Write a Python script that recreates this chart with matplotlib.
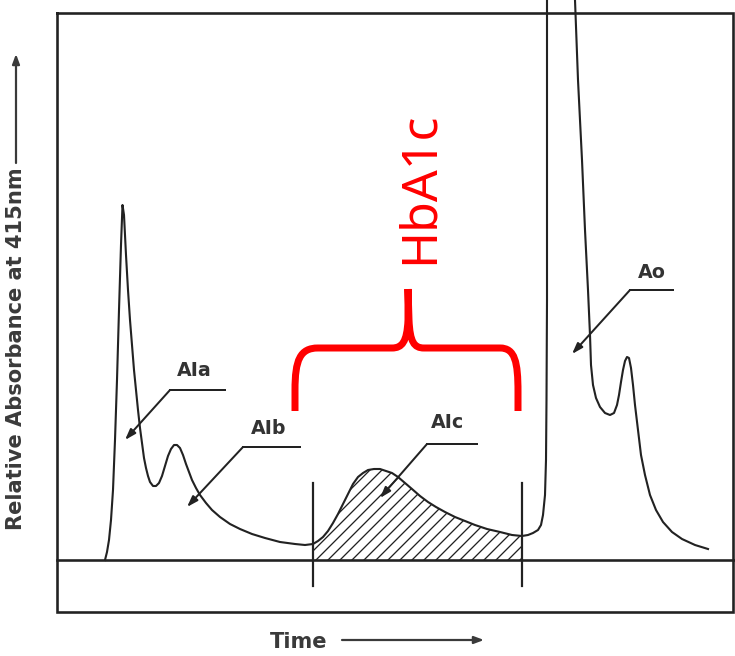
import numpy as np
import matplotlib
matplotlib.use("Agg")
import matplotlib.pyplot as plt
from matplotlib.path import Path
from matplotlib.patches import PathPatch

# ---------------- data (chromatogram trace) ----------------
time = np.array([
    105, 107, 109, 111, 113, 115, 117, 119, 121, 122.5, 124, 126, 128, 130, 132, 134,
    136, 138, 140, 142, 144, 146, 148, 150, 153, 156, 159, 162, 165, 168, 171, 174,
    177, 180, 183, 186, 189, 192, 196, 200, 206, 212, 220, 230, 240, 252, 265, 280,
    295, 305, 313, 318, 323, 328, 333, 338, 343, 348, 353, 358, 363, 368, 374, 380,
    386, 392, 398, 405, 412, 420, 428, 436, 445, 455, 465, 475, 487, 500, 512, 522,
    528, 533, 538, 541, 543, 545, 546, 546.5, 547, 547, 547, 560, 574, 575, 578, 582,
    585, 588, 590, 591, 593, 596, 600, 605, 610, 614, 617, 619, 621, 623, 625, 627,
    629, 631, 633, 635, 638, 641, 645, 650, 656, 663, 672, 682, 695, 708])
absorbance = np.array([
    0, 8, 20, 40, 70, 120, 180, 250, 315, 355, 345, 305, 270, 240, 215, 190,
    170, 150, 132, 117, 102, 92, 84, 78, 74, 74, 77, 84, 94, 104, 111, 115,
    115, 112, 105, 96, 88, 80, 72, 65, 57, 50, 43, 36, 31, 26, 22, 18,
    16, 15, 16, 19, 23, 29, 37, 46, 56, 66, 76, 83, 87, 90, 91, 91,
    89, 87, 83, 77, 71, 64, 58, 53, 48, 43, 39, 35, 31, 28, 25, 24,
    25, 27, 30, 35, 45, 65, 100, 160, 260, 410, 600, 760, 600, 560, 480, 400,
    330, 270, 225, 195, 175, 162, 153, 147, 145, 147, 155, 165, 178, 190, 199, 203,
    202, 192, 175, 155, 130, 105, 85, 65, 50, 38, 28, 21, 15, 11])

alc_start, alc_end = 313, 522
peak_labels = ["AIa", "AIb", "AIc", "Ao"]
axis_y_label = "Relative Absorbance at 415nm"
axis_x_label = "Time"
bracket_label = "HbA1c"

# ---------------- layout ----------------
W, H = 735, 656
BASE = 560  # pixel row of the baseline


def A(ypix):
    """pixel row -> absorbance coordinate"""
    return BASE - ypix


fig = plt.figure(figsize=(W / 72, H / 72), dpi=72)
ax = fig.add_axes([0, 0, 1, 1])
ax.set_xlim(0, W)
ax.set_ylim(A(H), A(0))
ax.axis("off")
plt.rcParams["hatch.linewidth"] = 1.3

ink = "#222222"

# frame
fx0, fx1, fy0, fy1 = 57, 733, 13, 612
ax.plot([fx0, fx1, fx1, fx0, fx0], [A(fy0), A(fy0), A(fy1), A(fy1), A(fy0)],
        color=ink, lw=2.6, solid_joinstyle="miter")
ax.plot([fx0, W], [0, 0], color=ink, lw=2.6)

# trace
ax.plot(time, absorbance, color=ink, lw=2.1, solid_joinstyle="round")

# hatched AIc area
mask = (time >= alc_start) & (time <= alc_end)
ax.fill_between(time, absorbance, 0, where=mask, facecolor="none",
                edgecolor=ink, hatch="//", linewidth=0)
for xv in (alc_start, alc_end):
    ax.plot([xv, xv], [A(483), A(586)], color=ink, lw=2.2)

# peak labels with leaders
label_layout = [
    # text pos, leader horizontal (x_right, x_corner, y), arrow tip
    ((194, 370), (225, 170, 390), (125, 440)),
    ((269, 428), (300, 243, 447), (187, 507)),
    ((448, 423), (477, 427, 444), (380, 498)),
    ((652, 272), (673, 630, 290), (572, 354)),
]
for lab, (tp, (xr, xc, yl), tip) in zip(peak_labels, label_layout):
    ax.text(tp[0], A(tp[1]), lab, ha="center", va="center", fontsize=19,
            fontweight="bold", color="#333333", family="DejaVu Sans")
    ax.plot([xr, xc], [A(yl), A(yl)], color=ink, lw=2.0)
    ax.annotate("", xy=(tip[0], A(tip[1])), xytext=(xc, A(yl)),
                arrowprops=dict(arrowstyle="-|>,head_length=0.9,head_width=0.3",
                                color=ink, lw=2.0, shrinkA=0, shrinkB=0))

# axis labels
ax.text(16, A(349), axis_y_label, rotation=90, ha="center", va="center",
        fontsize=21, fontweight="bold", color="#3a3a3a", family="DejaVu Sans")
ax.annotate("", xy=(16, A(54)), xytext=(16, A(163)),
            arrowprops=dict(arrowstyle="-|>,head_length=0.8,head_width=0.3",
                            color="#3a3a3a", lw=2.2, shrinkA=0, shrinkB=0))
ax.text(299, A(642), axis_x_label, ha="center", va="center",
        fontsize=21, fontweight="bold", color="#3a3a3a", family="DejaVu Sans")
ax.annotate("", xy=(484, A(640)), xytext=(342, A(640)),
            arrowprops=dict(arrowstyle="-|>,head_length=0.8,head_width=0.3",
                            color="#3a3a3a", lw=2.2, shrinkA=0, shrinkB=0))

# red brace
P = lambda x, y: (x, A(y))
verts = [P(295, 411), P(295, 390),
         P(295, 360), P(300, 348), P(318, 348),
         P(392, 348),
         P(402, 348), P(407, 342), P(408, 320),
         P(408, 289),
         P(408, 289), P(409, 320),
         P(410, 342), P(414, 348), P(424, 348),
         P(500, 348),
         P(515, 348), P(518, 362), P(518, 392),
         P(518, 411)]
codes = [Path.MOVETO, Path.LINETO,
         Path.CURVE4, Path.CURVE4, Path.CURVE4,
         Path.LINETO,
         Path.CURVE4, Path.CURVE4, Path.CURVE4,
         Path.LINETO,
         Path.MOVETO, Path.LINETO,
         Path.CURVE4, Path.CURVE4, Path.CURVE4,
         Path.LINETO,
         Path.CURVE4, Path.CURVE4, Path.CURVE4,
         Path.LINETO]
ax.add_patch(PathPatch(Path(verts, codes), facecolor="none", edgecolor="#ff0000",
                       lw=7, capstyle="butt", joinstyle="round"))
ax.text(420, A(188), bracket_label, rotation=90, ha="center", va="center",
        fontsize=50, color="#ff0000", family="Noto Sans")

fig.savefig("out.png", dpi=72, facecolor="white")
